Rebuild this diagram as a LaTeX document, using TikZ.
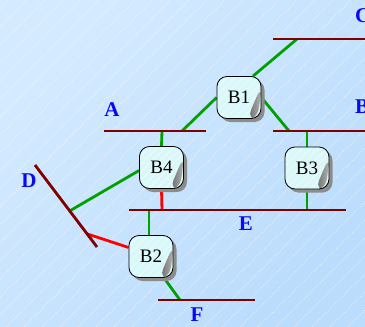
\documentclass[tikz,border=0pt]{standalone}
\usepackage{fontspec}
\setmainfont{Liberation Serif}
\usetikzlibrary{shadows,calc}
\pgfdeclarelayer{bg}
\pgfdeclarelayer{conn}
\pgfsetlayers{bg,conn,main}
\definecolor{bgA}{HTML}{D4EAFF}
\definecolor{bgB}{HTML}{A2CAF6}
\definecolor{bgC}{HTML}{BADCFD}
\definecolor{busred}{HTML}{800000}
\definecolor{lgreen}{HTML}{00A000}
\definecolor{lred}{HTML}{FF0000}
\definecolor{lblue}{HTML}{0A0AF0}
\definecolor{boxfill}{HTML}{D8F8FA}
\tikzset{
 bus/.style={busred, line width=2.8pt},
 gconn/.style={lgreen, line width=2.8pt},
 rconn/.style={lred, line width=2.8pt},
 lbl/.style={text=lblue, font=\fontsize{21}{21}\selectfont\bfseries, inner sep=0pt},
 brk/.style={draw=black, line width=0.8pt, fill=boxfill, rounded corners=10pt,
   minimum width=44pt, minimum height=42pt, inner sep=0pt,
   font=\fontsize{19}{19}\selectfont,
   drop shadow={shadow xshift=3.5pt, shadow yshift=-3.5pt, fill=black!45, opacity=1},
   path picture={
     \foreach \k in {-64,-56,...,64}{
       \draw[white, line width=0.4pt, opacity=0.8]
         ([shift={({(\k-30)*1pt},-30pt)}]path picture bounding box.center) --
         ([shift={({(\k+30)*1pt},30pt)}]path picture bounding box.center);
     }
     \shade[left color=black!60, right color=black!30]
       ([shift={(22pt,11pt)}]path picture bounding box.center) --
       ([shift={(22pt,3pt)}]path picture bounding box.center) --
       ([shift={(18pt,-22pt)}]path picture bounding box.center) --
       ([shift={(8pt,-22pt)}]path picture bounding box.center) -- cycle;
   }},
}
\begin{document}
\begin{tikzpicture}[x=1pt,y=-1pt]
\useasboundingbox (0,0) rectangle (365,327);
\begin{pgfonlayer}{bg}
\shade[top color=bgA, middle color=bgB, bottom color=bgC, shading angle=45] (0,0) rectangle (365,327);
\begin{scope}
\clip (0,0) rectangle (365,327);
\foreach \i in {-336,-318,...,380}
  \draw[white, opacity=0.6, line width=0.4pt, dash pattern=on 1.5pt off 1pt] (\i,327) -- (\i+327,0);
\end{scope}
\end{pgfonlayer}

% bus end points
\coordinate (c0) at (273,39);  \coordinate (cE) at (366,39);
\coordinate (b0) at (273,131); \coordinate (bE) at (366,131);
\coordinate (a0) at (104,131); \coordinate (aE) at (206,131);
\coordinate (e0) at (129,210); \coordinate (eE) at (346,210);
\coordinate (f0) at (158,300); \coordinate (fE) at (255,300);
\coordinate (d0) at (35,165);  \coordinate (dE) at (97,247);

% attach points
\coordinate (c1) at (297,39);
\coordinate (b1) at (289,131);
\coordinate (a1) at (182,131);
\coordinate (a2) at (162,131);
\coordinate (e1) at (162,210);
\coordinate (b2) at (307,131);
\coordinate (e2) at (307,210);
\coordinate (e3) at (149,210);
\coordinate (f1) at (180,300);
\coordinate (dg) at ($(d0)!0.56!(dE)$);
\coordinate (dr) at ($(d0)!0.84!(dE)$);

% breakers
\node[brk] (B1) at (239,97.5) {B1};
\node[brk] (B4) at (161.5,167.5) {B4};
\node[brk] (B3) at (307,168) {B3};
\node[brk] (B2) at (151,256.5) {B2};

\begin{pgfonlayer}{conn}
\draw[gconn] ([xshift=14pt]B1.north) -- (c1);
\draw[gconn] (B1.east) -- (b1);
\draw[gconn] (B1.west) -- (a1);
\draw[gconn] (B4.north) -- (a2);
\draw[rconn] (B4.south) -- (e1);
\draw[gconn] (B3.north) -- (b2);
\draw[gconn] (B3.south) -- (e2);
\draw[gconn] ([xshift=-2pt]B2.north) -- (e3);
\draw[gconn] ([xshift=13pt]B2.south) -- (f1);
\draw[gconn] ([yshift=-3pt]B4.west) -- (dg);
\draw[rconn] ([yshift=9pt]B2.west) -- (dr);
\draw[bus] (c0) -- (cE);
\draw[bus] (b0) -- (bE);
\draw[bus] (a0) -- (aE);
\draw[bus] (e0) -- (eE);
\draw[bus] (f0) -- (fE);
\draw[bus] (d0) -- (dE);
\end{pgfonlayer}

% labels
\node[lbl] (lA) at (112,110) {A};
\node[lbl, anchor=west] (lB) at (355,107) {B};
\node[lbl, anchor=west] (lC) at (355,16) {C};
\node[lbl] (lD) at (29,181) {D};
\node[lbl] (lE) at (246,224) {E};
\node[lbl] (lF) at (197,315) {F};
\end{tikzpicture}
\end{document}
